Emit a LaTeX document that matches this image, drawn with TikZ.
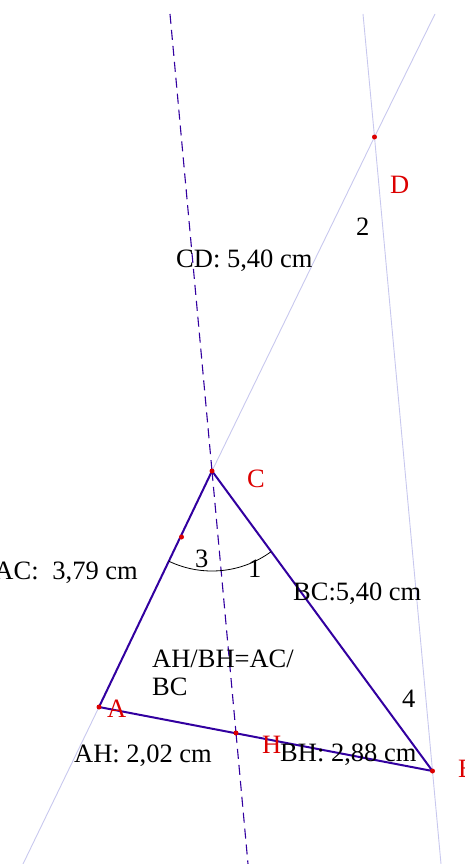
\documentclass[tikz,border=0pt]{standalone}
\usepackage{fontspec}
\setmainfont{Liberation Serif}
\definecolor{triblue}{RGB}{50,0,160}
\definecolor{lightline}{RGB}{200,200,238}
\definecolor{ptred}{RGB}{220,0,0}
\begin{document}
\begin{tikzpicture}[
  x=1pt, y=-1pt,
  lbl/.style={inner sep=0pt, font=\fontsize{26.5}{28}\selectfont},
  ptlbl/.style={lbl, text=ptred},
  side/.style={triblue, line width=2pt},
  aux/.style={lightline, line width=0.9pt},
  bisline/.style={triblue, line width=1.1pt, dash pattern=on 10pt off 6pt}
]
  \useasboundingbox (0,0) rectangle (465,864);
  \clip (0,0) rectangle (465,864);

  \coordinate (A) at (99,707);
  \coordinate (B) at (432.5,771);
  \coordinate (C) at (212,471);
  \coordinate (D) at (374.5,137);
  \coordinate (H) at (236,733);
  \coordinate (P) at (181.5,537);

  % free ends of the long lines
  \coordinate (adlow) at (23,864);
  \coordinate (adtop) at (435,14);
  \coordinate (bdtop) at (363,14);
  \coordinate (bdlow) at (441,864);
  \coordinate (bistop) at (170,14);
  \coordinate (bislow) at (248,864);

  \draw[aux] (adlow)--(A) (A)--(C) (C)--(D) (D)--(adtop);
  \draw[aux] (bdtop)--(D) (D)--(B) (B)--(bdlow);
  \draw[bisline] (bistop)--(C) (C)--(H) (H)--(bislow);

  \draw[side] (A)--(B) (B)--(C) (C)--(A);

  \draw[line width=0.8pt] (C) ++(244.4:100pt) arc[start angle=244.4, end angle=306.3, radius=100pt];

  \foreach \p in {A,B,C,D,H,P}
    \fill[ptred] (\p) circle (2.5pt);

  \node[lbl, anchor=base west] (cd) at (176,267) {CD: 5,40 cm};
  \node[lbl, anchor=base west] (two) at (356,235) {2};
  \node[lbl, anchor=base west] (three) at (195,567) {3};
  \node[lbl, anchor=base west] (one) at (248,577) {1};
  \node[lbl, anchor=base east] (ac) at (138,579) {AC:\hspace{0.27em} 3,79 cm};
  \node[lbl, anchor=base west] (bc) at (293,600) {BC:5,40 cm};
  \node[lbl, anchor=base west, align=left] (ratio) at (152,695) {AH/BH=AC/\\BC};
  \node[lbl, anchor=base west] (four) at (402,707) {4};
  \node[lbl, anchor=base west] (ah) at (74,762) {AH: 2,02 cm};
  \node[lbl, anchor=base west] (bh) at (280,761) {BH: 2,88 cm};

  \node[ptlbl, anchor=base west] (labD) at (390,193) {D};
  \node[ptlbl, anchor=base west] (labC) at (247,487) {C};
  \node[ptlbl, anchor=base west] (labA) at (107,717) {A};
  \node[ptlbl, anchor=base west] (labH) at (262,753) {H};
  \node[ptlbl, anchor=base west] (labB) at (458,777) {B};
\end{tikzpicture}
\end{document}
